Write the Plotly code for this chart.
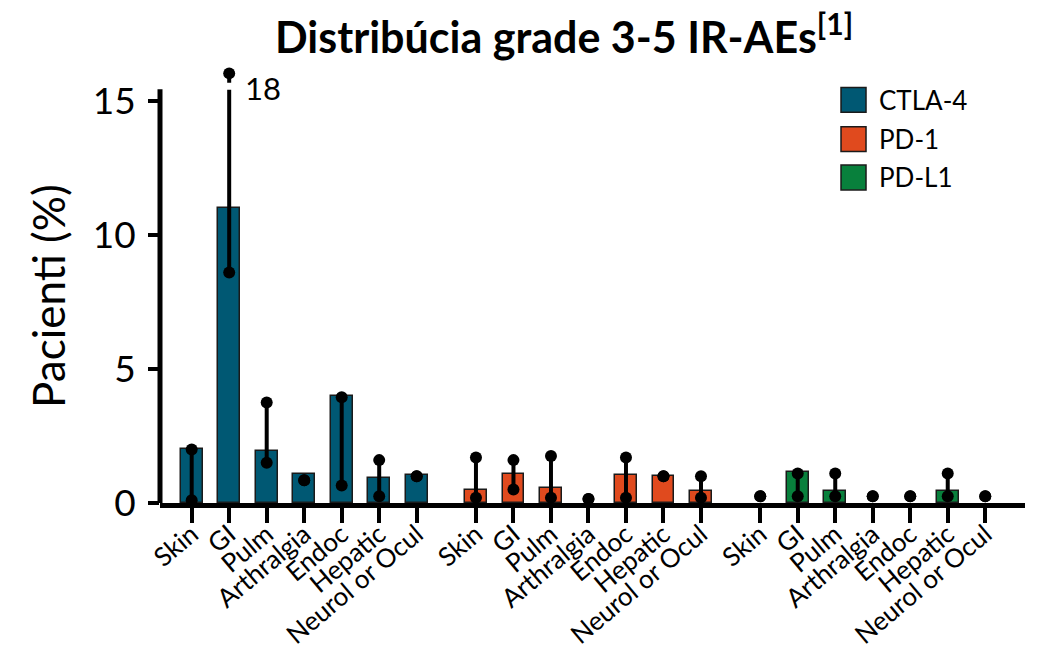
import plotly.graph_objects as go

# ---- data -------------------------------------------------------------
categories = ["Skin", "GI", "Pulm", "Arthralgia", "Endoc", "Hepatic", "Neurol or Ocul"]
groups = ["CTLA-4", "PD-1", "PD-L1"]
colors = ["#005873", "#e04a1e", "#08803c"]

ctla4_pct = [2.0, 11.0, 1.95, 1.1, 4.0, 0.95, 1.05]
ctla4_low = [0.1, 8.6, 1.5, 0.85, 0.65, 0.25, 1.0]
ctla4_high = [2.0, 18.0, 3.75, 0.85, 3.95, 1.6, 1.0]

pd1_pct = [0.5, 1.1, 0.55, 0.0, 1.05, 1.0, 0.45]
pd1_low = [0.2, 0.5, 0.2, 0.15, 0.2, 1.0, 0.2]
pd1_high = [1.7, 1.6, 1.75, 0.15, 1.7, 1.0, 1.0]

pdl1_pct = [0.0, 1.15, 0.45, 0.0, 0.0, 0.45, 0.0]
pdl1_low = [0.25, 0.25, 0.25, 0.25, 0.25, 0.25, 0.25]
pdl1_high = [0.25, 1.1, 1.1, 0.25, 0.25, 1.1, 0.25]

y_ticks = [0, 5, 10, 15]

pct = [ctla4_pct, pd1_pct, pdl1_pct]
low = [ctla4_low, pd1_low, pdl1_low]
high = [ctla4_high, pd1_high, pdl1_high]

# ---- layout constants --------------------------------------------------
GROUP_GAP = 0.58          # extra space between drug classes (in bar slots)
BAR_WIDTH = 0.58
AXIS_TOP = 15.44          # where the y-axis line stops
BREAK_LO, BREAK_HI, CAP = 15.42, 15.68, 16.03   # broken range above the axis
FONT = "Lato"

n = len(categories)
positions = [[g * (n + GROUP_GAP) + i for i in range(n)] for g in range(len(groups))]

fig = go.Figure()

# bars (zero rates get no bar at all)
for g, name in enumerate(groups):
    fig.add_trace(go.Bar(
        x=positions[g], y=[v if v > 0 else None for v in pct[g]],
        width=BAR_WIDTH, name=name,
        marker=dict(color=colors[g], line=dict(color="#1a1a1a", width=1.5)),
        showlegend=False, hoverinfo="x+y",
    ))

# range whiskers (low-high) with end dots; values beyond the axis are broken
line_x, line_y, dot_x, dot_y = [], [], [], []
breaks = []
for g in range(len(groups)):
    for p, lo, hi in zip(positions[g], low[g], high[g]):
        if hi > AXIS_TOP:
            line_x += [p, p, None, p, p, None]
            line_y += [lo, BREAK_LO, None, BREAK_HI, CAP, None]
            dot_x += [p, p]
            dot_y += [lo, CAP]
            breaks.append((p, hi))
        else:
            line_x += [p, p, None]
            line_y += [lo, hi, None]
            dot_x += [p, p]
            dot_y += [lo, hi]

fig.add_trace(go.Scatter(
    x=line_x, y=line_y, mode="lines", line=dict(color="black", width=4),
    showlegend=False, hoverinfo="skip", cliponaxis=False,
))
fig.add_trace(go.Scatter(
    x=dot_x, y=dot_y, mode="markers", marker=dict(color="black", size=12),
    showlegend=False, hoverinfo="y", cliponaxis=False,
))

# value label for the broken whisker
for p, hi in breaks:
    fig.add_annotation(
        x=p, y=15.5, xref="x", yref="y", text=f"{hi:g}", showarrow=False,
        xanchor="left", yanchor="middle", xshift=14,
        font=dict(family=FONT, size=31, color="black"),
    )

# y-axis line drawn up to the top tick region only
fig.add_shape(type="line", xref="paper", yref="y", x0=0, x1=0, y0=-0.2, y1=AXIS_TOP,
              line=dict(color="black", width=5), layer="above")

# legend
leg_y = [0.9184, 0.8288, 0.7415]
half = 0.0283
for g, name in enumerate(groups):
    fig.add_shape(type="rect", xref="paper", yref="paper",
                  x0=0.7873, x1=0.8162, y0=leg_y[g] - half, y1=leg_y[g] + half,
                  fillcolor=colors[g], line=dict(color="#1a1a1a", width=1.5))
    fig.add_annotation(x=0.8289, y=leg_y[g], xref="paper", yref="paper", text=name,
                       showarrow=False, xanchor="left", yanchor="middle",
                       font=dict(family=FONT, size=26, color="black"))

# title and y-axis title
fig.add_annotation(x=0.467, y=1.07, xref="paper", yref="paper",
                   text="<b>Distribúcia grade 3-5 IR-AEs<sup>[1]</sup></b>",
                   showarrow=False, xanchor="center", yanchor="middle",
                   font=dict(family=FONT, size=43, color="black"))
fig.add_annotation(x=-0.1295, y=0.4717, xref="paper", yref="paper",
                   text="Pacienti (%)", textangle=-90, showarrow=False,
                   xanchor="center", yanchor="middle",
                   font=dict(family=FONT, size=44, color="black"))

all_pos = [p for grp in positions for p in grp]
fig.update_layout(
    width=1038, height=649,
    margin=dict(l=160, r=13, t=64, b=146, autoexpand=False),
    paper_bgcolor="white", plot_bgcolor="white",
    font=dict(family=FONT, color="black"),
    bargap=0,
    xaxis=dict(
        range=[-0.845, 22.22], tickmode="array", tickvals=all_pos,
        ticktext=categories * len(groups), tickangle=-40, automargin=False,
        tickfont=dict(family=FONT, size=26, color="black"), ticklabelstandoff=-14,
        showline=True, linecolor="black", linewidth=5,
        ticks="outside", ticklen=15, tickwidth=4, tickcolor="black",
        showgrid=False, zeroline=False,
    ),
    yaxis=dict(
        range=[0, 16.38], tickmode="array", tickvals=y_ticks, automargin=False,
        tickfont=dict(family=FONT, size=37, color="black"), ticklabelstandoff=5,
        showline=False, ticks="outside", ticklen=11, tickwidth=4, tickcolor="black",
        showgrid=False, zeroline=False,
    ),
)

fig.write_html("out.html")
